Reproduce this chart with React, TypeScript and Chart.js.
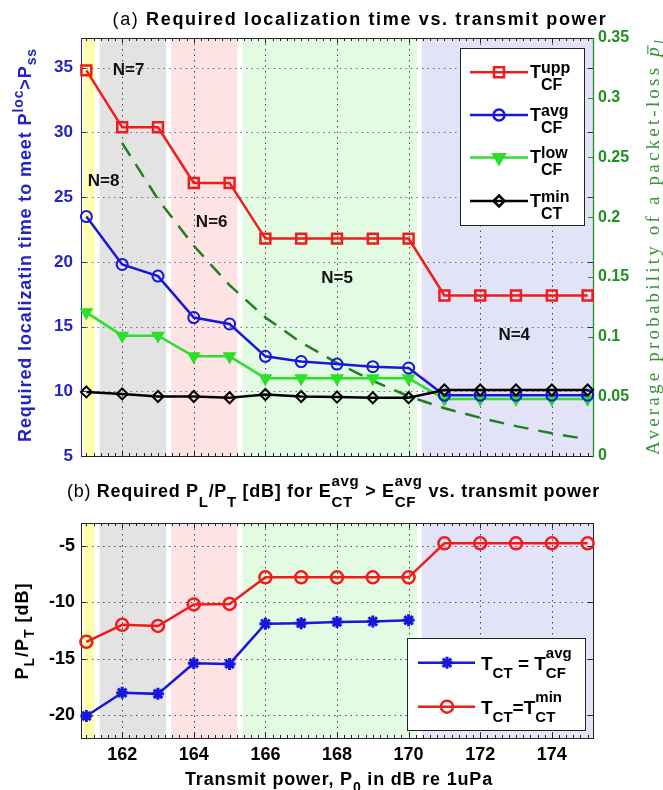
import React, { useEffect, useRef } from 'react';
import { Chart, registerables } from 'chart.js';

Chart.register(...registerables);

// ---------- data ----------
const xValues = [161, 162, 163, 164, 165, 166, 167, 168, 169, 170, 171, 172, 173, 174, 175];
const xTickValues = [162, 164, 166, 168, 170, 172, 174];
const topLeftTicks = [5, 10, 15, 20, 25, 30, 35];
const topRightTicks = [0, 0.05, 0.1, 0.15, 0.2, 0.25, 0.3, 0.35];
const bottomTicks = [-20, -15, -10, -5];

const tUpp = [34.8, 30.4, 30.4, 26.1, 26.1, 21.8, 21.8, 21.8, 21.8, 21.8, 17.4, 17.4, 17.4, 17.4, 17.4];
const tAvg = [23.5, 19.8, 18.9, 15.7, 15.2, 12.7, 12.3, 12.1, 11.9, 11.8, 9.7, 9.7, 9.7, 9.7, 9.7];
const tLow = [16.1, 14.3, 14.3, 12.7, 12.7, 11.0, 11.0, 11.0, 11.0, 11.0, 9.4, 9.4, 9.4, 9.4, 9.4];
const tMin = [9.95, 9.8, 9.6, 9.6, 9.5, 9.75, 9.6, 9.55, 9.5, 9.5, 10.1, 10.1, 10.1, 10.1, 10.1];
const lossProb = [null, 0.262, 0.215, 0.176, 0.143, 0.116, 0.095, 0.078, 0.063, 0.05, 0.04, 0.032, 0.025, 0.019, 0.014];

const ratioAvg = [-20.05, -18.0, -18.1, -15.4, -15.45, -11.9, -11.85, -11.75, -11.7, -11.6, null, null, null, null, null];
const ratioMin = [-13.5, -12.0, -12.1, -10.2, -10.15, -7.8, -7.8, -7.8, -7.8, -7.8, -4.8, -4.8, -4.8, -4.8, -4.8];

const bandStart = [160.92, 161.37, 163.37, 165.36, 170.37];
const bandEnd = [161.23, 163.23, 165.22, 170.23, 175.3];
const bandColor = ['#ffffb0', '#e3e3e3', '#fde3e3', '#e3fae3', '#e3e3f8'];

const regionLabels = ['N=8', 'N=7', 'N=6', 'N=5', 'N=4'];
const regionLabelX = [161.48, 162.18, 164.5, 168.0, 172.95];
const regionLabelY = [26.2, 34.8, 23.05, 18.75, 14.35];

// ---------- styles ----------
const SANS = '"Liberation Sans", Arial, sans-serif';
const SERIF = '"Liberation Serif", "Times New Roman", serif';
const RED = '#f01c1c';
const BLUE = '#1717dc';
const GREEN = '#2ae02a';
const BLACK = '#000000';
const DGREEN = '#1f7f1f';
const AXBLUE = '#2323c4';
const AXGREEN = '#1f8f1f';

type Seg = { t?: string; sup?: string; sub?: string; w?: string; it?: boolean; bar?: boolean };
type RichOpt = { size: number; script: number; supDy: number; subDy: number; family: string; weight: string; color: string; spacing?: number };

function fontOf(o: RichOpt, s: Seg, size: number) {
  return `${s.it ? 'italic ' : ''}${s.w || o.weight} ${size}px ${o.family}`;
}

function richWidth(ctx: CanvasRenderingContext2D, segs: Seg[], o: RichOpt) {
  ctx.save();
  (ctx as any).letterSpacing = `${o.spacing || 0}px`;
  let w = 0;
  for (const s of segs) {
    if (s.t) { ctx.font = fontOf(o, s, o.size); w += ctx.measureText(s.t).width; }
    let sw = 0;
    if (s.sup) { ctx.font = fontOf(o, s, o.script); sw = Math.max(sw, ctx.measureText(s.sup).width); }
    if (s.sub) { ctx.font = fontOf(o, s, o.script); sw = Math.max(sw, ctx.measureText(s.sub).width); }
    w += sw;
  }
  ctx.restore();
  return w;
}

function fitSpacing(ctx: CanvasRenderingContext2D, segs: Seg[], o: RichOpt, target: number) {
  const nat = richWidth(ctx, segs, { ...o, spacing: 0 });
  let n = 0;
  for (const s of segs) n += (s.t ? s.t.length : 0) + Math.max(s.sup ? s.sup.length : 0, s.sub ? s.sub.length : 0);
  return Math.max(-1, (target - nat) / n);
}

function drawRich(ctx: CanvasRenderingContext2D, segs: Seg[], x: number, y: number, o: RichOpt, align: 'left' | 'center' | 'right' = 'left') {
  const total = richWidth(ctx, segs, o);
  let cx = align === 'center' ? x - total / 2 : align === 'right' ? x - total : x;
  ctx.save();
  (ctx as any).letterSpacing = `${o.spacing || 0}px`;
  ctx.fillStyle = o.color;
  ctx.textAlign = 'left';
  ctx.textBaseline = 'alphabetic';
  for (const s of segs) {
    if (s.t) {
      ctx.font = fontOf(o, s, o.size);
      const tw = ctx.measureText(s.t).width;
      ctx.fillText(s.t, cx, y);
      if (s.bar) ctx.fillRect(cx + tw * 0.2, y - o.size * 0.6, tw * 0.7, Math.max(1, o.size * 0.06));
      cx += tw;
    }
    let sw = 0;
    if (s.sup) {
      ctx.font = fontOf(o, s, o.script);
      ctx.fillText(s.sup, cx, y + o.supDy);
      sw = Math.max(sw, ctx.measureText(s.sup).width);
    }
    if (s.sub) {
      ctx.font = fontOf(o, s, o.script);
      ctx.fillText(s.sub, cx, y + o.subDy);
      sw = Math.max(sw, ctx.measureText(s.sub).width);
    }
    cx += sw;
  }
  ctx.restore();
}

function drawRichRotated(ctx: CanvasRenderingContext2D, segs: Seg[], cx: number, cy: number, o: RichOpt) {
  ctx.save();
  ctx.translate(cx, cy);
  ctx.rotate(-Math.PI / 2);
  drawRich(ctx, segs, 0, o.size * 0.35, o, 'center');
  ctx.restore();
}

function drawMarker(ctx: CanvasRenderingContext2D, style: string, x: number, y: number, r: number, color: string, fill: boolean, lw: number) {
  ctx.save();
  ctx.strokeStyle = color;
  ctx.fillStyle = color;
  ctx.lineWidth = lw;
  ctx.setLineDash([]);
  ctx.beginPath();
  if (style === 'rect') {
    const s = r * Math.SQRT1_2;
    ctx.rect(x - s, y - s, 2 * s, 2 * s);
  } else if (style === 'circle') {
    ctx.arc(x, y, r, 0, Math.PI * 2);
  } else if (style === 'triDown') {
    let a = Math.PI;
    ctx.moveTo(x + Math.sin(a) * r, y - Math.cos(a) * r);
    a += (Math.PI * 2) / 3;
    ctx.lineTo(x + Math.sin(a) * r, y - Math.cos(a) * r);
    a += (Math.PI * 2) / 3;
    ctx.lineTo(x + Math.sin(a) * r, y - Math.cos(a) * r);
    ctx.closePath();
  } else if (style === 'diamond') {
    ctx.moveTo(x, y - r);
    ctx.lineTo(x + r, y);
    ctx.lineTo(x, y + r);
    ctx.lineTo(x - r, y);
    ctx.closePath();
  } else if (style === 'star') {
    ctx.moveTo(x - r, y); ctx.lineTo(x + r, y);
    ctx.moveTo(x, y - r); ctx.lineTo(x, y + r);
    const d = r * Math.SQRT1_2;
    ctx.moveTo(x - d, y - d); ctx.lineTo(x + d, y + d);
    ctx.moveTo(x - d, y + d); ctx.lineTo(x + d, y - d);
  }
  if (fill) ctx.fill();
  ctx.stroke();
  ctx.restore();
}

// ---------- text content ----------
const titleA: Seg[] = [{ t: '(a) ', w: 'normal' }, { t: 'Required localization time vs. transmit power' }];
const titleB: Seg[] = [
  { t: '(b) ', w: 'normal' }, { t: 'Required P' }, { sub: 'L' }, { t: '/P' }, { sub: 'T' },
  { t: ' [dB] for E' }, { sup: 'avg', sub: 'CT' }, { t: ' > E' }, { sup: 'avg', sub: 'CF' }, { t: ' vs. transmit power' },
];
const topYTitle: Seg[] = [{ t: 'Required localizatin time to meet P' }, { sup: 'loc' }, { t: '>P' }, { sub: 'ss' }];
const topY1Title: Seg[] = [{ t: 'Average probability of a packet-loss ' }, { t: 'p', it: true, bar: true }, { sub: 'l', it: true }];
const botYTitle: Seg[] = [{ t: 'P' }, { sub: 'L' }, { t: '/P' }, { sub: 'T' }, { t: ' [dB]' }];
const botXTitle: Seg[] = [{ t: 'Transmit power, P' }, { sub: '0' }, { t: ' in dB re 1uPa' }];

const topLegendText: Seg[][] = [
  [{ t: 'T' }, { sup: 'upp', sub: 'CF' }],
  [{ t: 'T' }, { sup: 'avg', sub: 'CF' }],
  [{ t: 'T' }, { sup: 'low', sub: 'CF' }],
  [{ t: 'T' }, { sup: 'min', sub: 'CT' }],
];
const topLegendStyle = [
  { color: RED, marker: 'rect', r: 7, fill: false },
  { color: BLUE, marker: 'circle', r: 5.5, fill: false },
  { color: GREEN, marker: 'triDown', r: 6.5, fill: true },
  { color: BLACK, marker: 'diamond', r: 5.5, fill: false },
];
const botLegendText: Seg[][] = [
  [{ t: 'T' }, { sub: 'CT' }, { t: ' = T' }, { sup: 'avg', sub: 'CF' }],
  [{ t: 'T' }, { sub: 'CT' }, { t: '=T' }, { sup: 'min', sub: 'CT' }],
];
const botLegendStyle = [
  { color: BLUE, marker: 'star', r: 6, fill: false },
  { color: RED, marker: 'circle', r: 6, fill: false },
];

// ---------- shared drawing helpers ----------
function drawBands(chart: any) {
  const { ctx, chartArea: a, scales } = chart;
  const xs = scales.x;
  ctx.save();
  bandStart.forEach((b, i) => {
    const x0 = Math.max(a.left, xs.getPixelForValue(b));
    const x1 = Math.min(a.right, xs.getPixelForValue(bandEnd[i]));
    ctx.fillStyle = bandColor[i];
    ctx.fillRect(x0, a.top, x1 - x0, a.bottom - a.top);
  });
  ctx.restore();
}

function drawXGridAndTicks(chart: any, color: string) {
  const { ctx, chartArea: a, scales } = chart;
  const xs = scales.x;
  ctx.save();
  ctx.strokeStyle = color;
  ctx.lineWidth = 1;
  ctx.setLineDash([1.5, 4]);
  for (const v of xTickValues) {
    const px = Math.round(xs.getPixelForValue(v)) + 0.5;
    ctx.beginPath(); ctx.moveTo(px, a.top); ctx.lineTo(px, a.bottom); ctx.stroke();
  }
  ctx.setLineDash([]);
  ctx.strokeStyle = '#222';
  for (const v of xTickValues) {
    const px = Math.round(xs.getPixelForValue(v)) + 0.5;
    ctx.beginPath(); ctx.moveTo(px, a.bottom); ctx.lineTo(px, a.bottom - 5);
    ctx.moveTo(px, a.top); ctx.lineTo(px, a.top + 5); ctx.stroke();
  }
  for (let i = 0; i <= 70; i++) {
    const v = 161 + i * 0.2;
    if (Math.abs(v - Math.round(v)) < 1e-6 && Math.round(v) % 2 === 0) continue;
    const px = Math.round(xs.getPixelForValue(v)) + 0.5;
    if (px < a.left || px > a.right) continue;
    ctx.beginPath(); ctx.moveTo(px, a.bottom); ctx.lineTo(px, a.bottom - 3);
    ctx.moveTo(px, a.top); ctx.lineTo(px, a.top + 3); ctx.stroke();
  }
  ctx.restore();
}

// ---------- plugins ----------
const topDecor = {
  id: 'topDecor',
  beforeDraw(chart: any) { drawBands(chart); },
  beforeDatasetsDraw(chart: any) {
    const { ctx, chartArea: a, scales } = chart;
    drawXGridAndTicks(chart, '#444');
    ctx.save();
    ctx.lineWidth = 1;
    ctx.setLineDash([1.5, 4]);
    ctx.strokeStyle = '#6a6a9a';
    for (const v of topLeftTicks) {
      const py = Math.round(scales.y.getPixelForValue(v)) + 0.5;
      if (py >= a.bottom - 1) continue;
      ctx.beginPath(); ctx.moveTo(a.left, py); ctx.lineTo(a.right, py); ctx.stroke();
    }
    ctx.setLineDash([]);
    ctx.strokeStyle = AXBLUE;
    for (const v of topLeftTicks) {
      const py = Math.round(scales.y.getPixelForValue(v)) + 0.5;
      ctx.beginPath(); ctx.moveTo(a.left, py); ctx.lineTo(a.left + 5, py);
      ctx.moveTo(a.right, py); ctx.lineTo(a.right - 5, py); ctx.stroke();
    }
    ctx.strokeStyle = AXGREEN;
    for (const v of topRightTicks) {
      const py = Math.round(scales.y1.getPixelForValue(v)) + 0.5;
      ctx.beginPath(); ctx.moveTo(a.right, py); ctx.lineTo(a.right - 5, py); ctx.stroke();
    }
    // borders
    ctx.strokeStyle = '#222';
    ctx.beginPath();
    ctx.moveTo(a.left, a.top + 0.5); ctx.lineTo(a.right, a.top + 0.5);
    ctx.moveTo(a.left, a.bottom + 0.5); ctx.lineTo(a.right, a.bottom + 0.5);
    ctx.stroke();
    ctx.strokeStyle = AXBLUE;
    ctx.beginPath(); ctx.moveTo(a.left + 0.5, a.top); ctx.lineTo(a.left + 0.5, a.bottom + 1); ctx.stroke();
    ctx.strokeStyle = AXGREEN;
    ctx.lineWidth = 1.3;
    ctx.beginPath(); ctx.moveTo(a.right + 0.5, a.top); ctx.lineTo(a.right + 0.5, a.bottom + 1); ctx.stroke();
    ctx.restore();
  },
  afterDatasetsDraw(chart: any) {
    const { ctx, scales } = chart;
    ctx.save();
    ctx.fillStyle = '#111';
    ctx.font = `bold 17px ${SANS}`;
    ctx.textAlign = 'center';
    ctx.textBaseline = 'middle';
    regionLabels.forEach((l, i) => {
      ctx.fillText(l, scales.x.getPixelForValue(regionLabelX[i]), scales.y.getPixelForValue(regionLabelY[i]));
    });
    // legend
    const bx = 460, by = 48, bw = 124, bh = 177;
    ctx.fillStyle = '#fff';
    ctx.fillRect(bx, by, bw, bh);
    ctx.strokeStyle = '#222';
    ctx.lineWidth = 1;
    ctx.strokeRect(bx + 0.5, by + 0.5, bw, bh);
    const ys = [72.3, 115, 157.5, 201];
    topLegendText.forEach((segs, i) => {
      const st = topLegendStyle[i];
      const y = ys[i];
      ctx.strokeStyle = st.color;
      ctx.lineWidth = 2.5;
      ctx.beginPath(); ctx.moveTo(470, y); ctx.lineTo(528, y); ctx.stroke();
      drawMarker(ctx, st.marker, 499, y, st.r, st.color, st.fill, 2.5);
      drawRich(ctx, segs, 530, y + 5.5, { size: 18, script: 16, supDy: -5, subDy: 12, family: SANS, weight: 'bold', color: '#000' });
    });
    ctx.restore();
  },
  afterDraw(chart: any) {
    const { ctx } = chart;
    const oA: RichOpt = { size: 18, script: 14, supDy: -8, subDy: 5, family: SANS, weight: 'bold', color: '#000' };
    oA.spacing = fitSpacing(ctx, titleA, oA, 495);
    drawRich(ctx, titleA, 360, 25, oA, 'center');
    const oY: RichOpt = { size: 18, script: 14, supDy: -8, subDy: 5, family: SANS, weight: 'bold', color: AXBLUE };
    oY.spacing = fitSpacing(ctx, topYTitle, oY, 394);
    drawRichRotated(ctx, topYTitle, 25, 245, oY);
    const oY1: RichOpt = { size: 19, script: 14, supDy: -7, subDy: 5, family: SERIF, weight: 'normal', color: '#3a923a' };
    oY1.spacing = fitSpacing(ctx, topY1Title, oY1, 418);
    drawRichRotated(ctx, topY1Title, 652, 246, oY1);
  },
};

const botDecor = {
  id: 'botDecor',
  beforeDraw(chart: any) { drawBands(chart); },
  beforeDatasetsDraw(chart: any) {
    const { ctx, chartArea: a, scales } = chart;
    drawXGridAndTicks(chart, '#444');
    ctx.save();
    ctx.lineWidth = 1;
    ctx.setLineDash([1.5, 4]);
    ctx.strokeStyle = '#555';
    for (const v of bottomTicks) {
      const py = Math.round(scales.y.getPixelForValue(v)) + 0.5;
      ctx.beginPath(); ctx.moveTo(a.left, py); ctx.lineTo(a.right, py); ctx.stroke();
    }
    ctx.setLineDash([]);
    ctx.strokeStyle = '#222';
    for (const v of bottomTicks) {
      const py = Math.round(scales.y.getPixelForValue(v)) + 0.5;
      ctx.beginPath(); ctx.moveTo(a.left, py); ctx.lineTo(a.left + 5, py);
      ctx.moveTo(a.right, py); ctx.lineTo(a.right - 5, py); ctx.stroke();
    }
    ctx.strokeRect(a.left + 0.5, a.top + 0.5, a.right - a.left, a.bottom - a.top);
    ctx.restore();
  },
  afterDatasetsDraw(chart: any) {
    const { ctx } = chart;
    ctx.save();
    const bx = 407, by = 163, bw = 178, bh = 92;
    ctx.fillStyle = '#fff';
    ctx.fillRect(bx, by, bw, bh);
    ctx.strokeStyle = '#222';
    ctx.lineWidth = 1;
    ctx.strokeRect(bx + 0.5, by + 0.5, bw, bh);
    const ys = [187.7, 231.7];
    botLegendText.forEach((segs, i) => {
      const st = botLegendStyle[i];
      const y = ys[i];
      ctx.strokeStyle = st.color;
      ctx.lineWidth = 2.5;
      ctx.beginPath(); ctx.moveTo(418, y); ctx.lineTo(475, y); ctx.stroke();
      drawMarker(ctx, st.marker, 447, y, st.r, st.color, st.fill, st.marker === 'star' ? 3 : 2.5);
      drawRich(ctx, segs, 481, y + 7, { size: 19, script: 15, supDy: -12, subDy: 8, family: SANS, weight: 'bold', color: '#000' });
    });
    ctx.restore();
  },
  afterDraw(chart: any) {
    const { ctx } = chart;
    const oB: RichOpt = { size: 18, script: 15, supDy: -11, subDy: 10, family: SANS, weight: 'bold', color: '#000' };
    oB.spacing = fitSpacing(ctx, titleB, oB, 533);
    drawRich(ctx, titleB, 333.5, 22, oB, 'center');
    const oY: RichOpt = { size: 18, script: 14, supDy: -8, subDy: 6, family: SANS, weight: 'bold', color: '#000' };
    oY.spacing = fitSpacing(ctx, botYTitle, oY, 97);
    drawRichRotated(ctx, botYTitle, 22, 156, oY);
    const oX: RichOpt = { size: 18, script: 14, supDy: -8, subDy: 7, family: SANS, weight: 'bold', color: '#000' };
    oX.spacing = fitSpacing(ctx, botXTitle, oX, 308);
    drawRich(ctx, botXTitle, 339, 310, oX, 'center');
  },
};

function pts(arr: (number | null)[]) {
  return xValues.map((x, i) => ({ x, y: arr[i] }));
}

const hollow = 'rgba(0,0,0,0)';

export default function App() {
  const topRef = useRef<HTMLCanvasElement>(null);
  const botRef = useRef<HTMLCanvasElement>(null);

  useEffect(() => {
    const topChart = new Chart(topRef.current as HTMLCanvasElement, {
      type: 'line',
      data: {
        datasets: [
          { label: 'T_CT^min', data: pts(tMin), yAxisID: 'y', borderColor: BLACK, borderWidth: 2.5, pointStyle: 'rectRot', pointRadius: 5.5, pointBorderWidth: 2, pointBorderColor: BLACK, pointBackgroundColor: hollow, clip: false } as any,
          { label: 'T_CF^avg', data: pts(tAvg), yAxisID: 'y', borderColor: BLUE, borderWidth: 2.5, pointStyle: 'circle', pointRadius: 5.5, pointBorderWidth: 2, pointBorderColor: BLUE, pointBackgroundColor: hollow, clip: false },
          { label: 'T_CF^low', data: pts(tLow), yAxisID: 'y', borderColor: GREEN, borderWidth: 2.5, pointStyle: 'triangle', pointRotation: 180, pointRadius: 6.5, pointBorderWidth: 1.5, pointBorderColor: GREEN, pointBackgroundColor: GREEN, clip: false },
          { label: 'T_CF^upp', data: pts(tUpp), yAxisID: 'y', borderColor: RED, borderWidth: 2.5, pointStyle: 'rect', pointRadius: 7, pointBorderWidth: 2.5, pointBorderColor: RED, pointBackgroundColor: hollow, clip: false },
          { label: 'packet-loss', data: pts(lossProb), yAxisID: 'y1', borderColor: DGREEN, borderWidth: 2.5, borderDash: [15, 10], pointRadius: 0, clip: false },
        ],
      },
      options: {
        responsive: false,
        animation: false,
        devicePixelRatio: 1,
        layout: { padding: { top: 38, left: 0, right: 0, bottom: 0 } },
        plugins: { legend: { display: false }, tooltip: { enabled: false }, title: { display: false } },
        scales: {
          x: {
            type: 'linear', min: 160.85, max: 175.15,
            ticks: { display: false }, grid: { display: false, drawTicks: false }, border: { display: false },
            afterFit: (s: any) => { s.height = 19; },
          },
          y: {
            type: 'linear', position: 'left', min: 5, max: 37.3,
            afterBuildTicks: (s: any) => { s.ticks = topLeftTicks.map((v) => ({ value: v })); },
            ticks: { color: AXBLUE, font: { family: SANS, size: 17, weight: 'bold' }, padding: 8, callback: (v: any) => String(v) },
            grid: { display: false, drawTicks: false }, border: { display: false },
            afterFit: (s: any) => { s.width = 81; },
          },
          y1: {
            type: 'linear', position: 'right', min: 0, max: 0.35,
            afterBuildTicks: (s: any) => { s.ticks = topRightTicks.map((v) => ({ value: v })); },
            ticks: { color: AXGREEN, font: { family: SANS, size: 16, weight: 'bold' }, padding: 5, callback: (v: any) => String(v) },
            grid: { display: false, drawTicks: false }, border: { display: false },
            afterFit: (s: any) => { s.width = 70; },
          },
        },
      } as any,
      plugins: [topDecor],
    });

    const botChart = new Chart(botRef.current as HTMLCanvasElement, {
      type: 'line',
      data: {
        datasets: [
          { label: 'T_CT = T_CF^avg', data: pts(ratioAvg), borderColor: BLUE, borderWidth: 2.5, pointStyle: 'star', pointRadius: 6, pointBorderWidth: 3, pointBorderColor: BLUE, pointBackgroundColor: BLUE, clip: false } as any,
          { label: 'T_CT = T_CT^min', data: pts(ratioMin), borderColor: RED, borderWidth: 2.5, pointStyle: 'circle', pointRadius: 6, pointBorderWidth: 2.5, pointBorderColor: RED, pointBackgroundColor: hollow, clip: false },
        ],
      },
      options: {
        responsive: false,
        animation: false,
        devicePixelRatio: 1,
        layout: { padding: { top: 48, left: 0, right: 70, bottom: 0 } },
        plugins: { legend: { display: false }, tooltip: { enabled: false }, title: { display: false } },
        scales: {
          x: {
            type: 'linear', min: 160.85, max: 175.15,
            afterBuildTicks: (s: any) => { s.ticks = xTickValues.map((v) => ({ value: v })); },
            ticks: { color: '#000', font: { family: SANS, size: 18, weight: 'bold' }, padding: 6, autoSkip: false, maxRotation: 0, callback: (v: any) => String(v) },
            grid: { display: false, drawTicks: false }, border: { display: false },
            afterFit: (s: any) => { s.height = 52; },
          },
          y: {
            type: 'linear', position: 'left', min: -22, max: -3,
            afterBuildTicks: (s: any) => { s.ticks = bottomTicks.map((v) => ({ value: v })); },
            ticks: { color: '#000', font: { family: SANS, size: 18, weight: 'bold' }, padding: 6, callback: (v: any) => String(v) },
            grid: { display: false, drawTicks: false }, border: { display: false },
            afterFit: (s: any) => { s.width = 81; },
          },
        },
      } as any,
      plugins: [botDecor],
    });

    return () => {
      topChart.destroy();
      botChart.destroy();
    };
  }, []);

  return (
    <div style={{ position: 'absolute', left: 0, top: 0, width: 663, height: 790, background: '#ffffff' }}>
      <canvas ref={topRef} width={663} height={475} style={{ position: 'absolute', left: 0, top: 0 }} />
      <canvas ref={botRef} width={663} height={315} style={{ position: 'absolute', left: 0, top: 475 }} />
    </div>
  );
}
